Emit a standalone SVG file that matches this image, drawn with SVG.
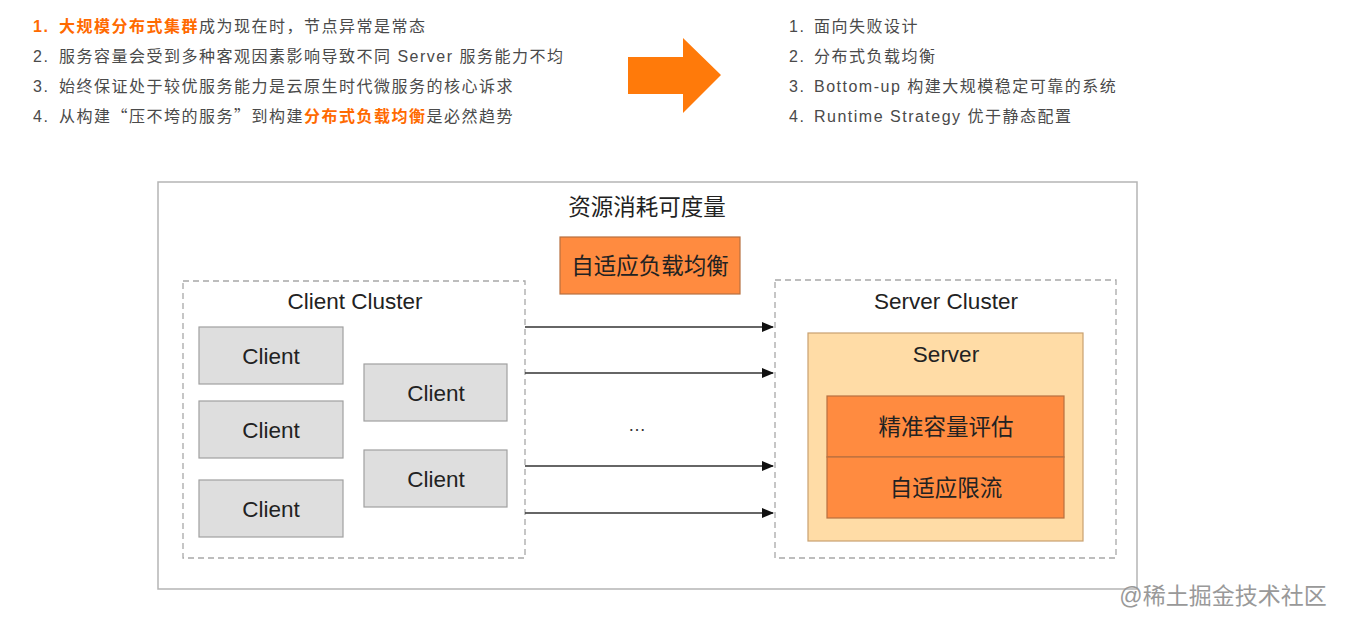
<svg xmlns="http://www.w3.org/2000/svg" width="1359" height="618" viewBox="0 0 1359 618">
<defs>
<style>
.t{font-family:"Liberation Sans","Noto Sans CJK SC",sans-serif;}
.cjk{font-family:"Noto Sans CJK SC",sans-serif;}
.list{font-size:16px;fill:#4a4a4a;letter-spacing:1.5px;}
.hl{fill:#FF6A00;font-weight:bold;}
.lbl{font-size:22.5px;fill:#222;text-anchor:middle;}
.client rect{fill:#DEDEDE;stroke:#A0A0A0;stroke-width:1.2;}
.dash{fill:none;stroke:#A8A8A8;stroke-width:1.3;stroke-dasharray:6,4;}
.org{fill:#FF8B40;stroke:#B87040;stroke-width:1.2;}
.conn line{stroke:#333;stroke-width:1.5;marker-end:url(#ah);}
</style>
<marker id="ah" markerWidth="12" markerHeight="10" refX="11" refY="5" orient="auto" markerUnits="userSpaceOnUse">
<path d="M0,0 L12,5 L0,10 Z" fill="#111"/>
</marker>
</defs>
<rect width="1359" height="618" fill="#fff"/>

<g id="left-list" class="t list">
<text x="33" y="32"><tspan class="hl">1.</tspan><tspan class="hl" x="59">大规模分布式集群</tspan>成为现在时，节点异常是常态</text>
<text x="33" y="62">2.<tspan x="59">服务容量会受到多种客观因素影响导致不同 Server 服务能力不均</tspan></text>
<text x="33" y="92">3.<tspan x="59">始终保证处于较优服务能力是云原生时代微服务的核心诉求</tspan></text>
<text x="33" y="122">4.<tspan x="59">从构建</tspan><tspan class="cjk">“</tspan>压不垮的服务<tspan class="cjk">”</tspan>到构建<tspan class="hl">分布式负载均衡</tspan>是必然趋势</text>
</g>

<g id="big-arrow">
<polygon points="628,57 683,57 683,38 721,75 683,113 683,94 628,94" fill="#FF7A0A"/>
</g>

<g id="right-list" class="t list">
<text x="789" y="32">1.<tspan x="814">面向失败设计</tspan></text>
<text x="789" y="62">2.<tspan x="814">分布式负载均衡</tspan></text>
<text x="789" y="92">3.<tspan x="814">Bottom-up 构建大规模稳定可靠的系统</tspan></text>
<text x="789" y="122">4.<tspan x="814">Runtime Strategy 优于静态配置</tspan></text>
</g>

<g id="outer">
<rect x="158" y="182" width="979" height="407" fill="#fff" stroke="#B5B5B5" stroke-width="1.5"/>
<text class="t lbl" x="647" y="215">资源消耗可度量</text>
</g>

<g id="adaptive-lb">
<rect class="org" x="560" y="237" width="180" height="57"/>
<text class="t lbl" x="650" y="274">自适应负载均衡</text>
</g>

<g id="client-cluster">
<rect class="dash" x="183" y="281" width="342" height="277"/>
<text class="t lbl" x="355" y="309">Client Cluster</text>
</g>

<g id="client1" class="client"><rect x="199" y="327" width="144" height="57"/><text class="t lbl" x="271" y="364">Client</text></g>
<g id="client2" class="client"><rect x="199" y="401" width="144" height="57"/><text class="t lbl" x="271" y="438">Client</text></g>
<g id="client3" class="client"><rect x="199" y="480" width="144" height="57"/><text class="t lbl" x="271" y="517">Client</text></g>
<g id="client4" class="client"><rect x="364" y="364" width="143" height="57"/><text class="t lbl" x="436" y="401">Client</text></g>
<g id="client5" class="client"><rect x="364" y="450" width="143" height="57"/><text class="t lbl" x="436" y="487">Client</text></g>

<g id="server-cluster">
<rect class="dash" x="775" y="280" width="341" height="278"/>
<text class="t lbl" x="946" y="309">Server Cluster</text>
</g>

<g id="server">
<rect x="808" y="333" width="275" height="208" fill="#FFDCA6" stroke="#C8A070" stroke-width="1.2"/>
<text class="t lbl" x="946" y="362">Server</text>
</g>

<g id="capacity">
<rect class="org" x="827" y="396" width="237" height="61"/>
<text class="t lbl" x="946" y="435">精准容量评估</text>
</g>

<g id="ratelimit">
<rect class="org" x="827" y="457" width="237" height="61"/>
<text class="t lbl" x="946" y="496">自适应限流</text>
</g>

<g id="connectors" class="conn">
<line x1="525" y1="327" x2="773" y2="327"/>
<line x1="525" y1="373" x2="773" y2="373"/>
<line x1="525" y1="466" x2="773" y2="466"/>
<line x1="525" y1="513" x2="773" y2="513"/>
</g>
<text class="t" x="637" y="431" font-size="18" fill="#333" text-anchor="middle">…</text>

<text class="t" x="1223" y="604" font-size="23" fill="#999" text-anchor="middle">@稀土掘金技术社区</text>
</svg>
